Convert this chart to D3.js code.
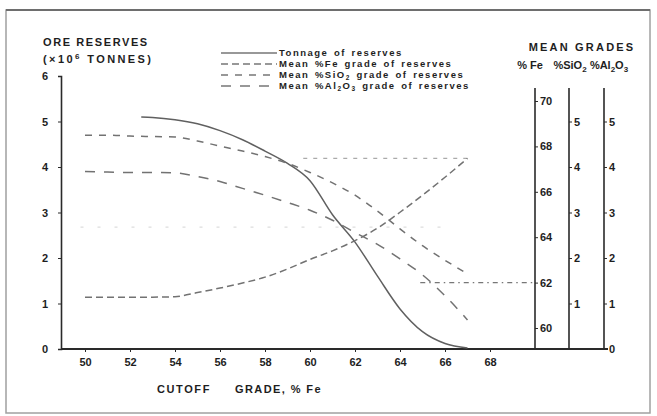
<!DOCTYPE html>
<html>
<head>
<meta charset="utf-8">
<script src="https://cdn.jsdelivr.net/npm/d3@7"></script>
<style>
  body { margin: 0; background: #fff; }
  svg { display: block; }
  text { font-family: "Liberation Sans", Arial, sans-serif; fill: #1e1e1e; }
  .axis path, .axis line { stroke: #2a2a2a; }
</style>
</head>
<body>
<svg id="chart"></svg>
<script>
'use strict';

// cutoff grade (% Fe) tick labels
var cutoffTicks = [50, 52, 54, 56, 58, 60, 62, 64, 66, 68];
var reserveTicks = [0, 1, 2, 3, 4, 5, 6];
var feTicks = [60, 62, 64, 66, 68, 70];
var oxideTicks = [1, 2, 3, 4, 5];

// tonnage of reserves (x10^6 t) against cutoff grade
var tonnageCutoff = [52.5, 53, 54, 55, 56, 57, 58, 59, 60, 61, 62, 63, 64, 65, 66, 67];
var tonnage = [5.1, 5.09, 5.04, 4.95, 4.8, 4.6, 4.35, 4.08, 3.7, 2.95, 2.35, 1.6, 0.88, 0.38, 0.12, 0.02];

// mean grades of reserves against cutoff grade
var gradeCutoff = [50, 51, 52, 53, 54, 55, 56, 57, 58, 59, 60, 61, 62, 63, 64, 65, 66, 67];
var feGrade = [61.36, 61.36, 61.36, 61.36, 61.38, 61.56, 61.76, 61.98, 62.24, 62.6, 63.02, 63.4, 63.85, 64.4, 65.1, 65.85, 66.64, 67.47];
var sio2Grade = [4.7, 4.7, 4.68, 4.67, 4.66, 4.57, 4.46, 4.35, 4.23, 4.08, 3.88, 3.65, 3.38, 3.03, 2.64, 2.27, 1.95, 1.65];
var al2o3Grade = [3.9, 3.89, 3.88, 3.88, 3.87, 3.79, 3.68, 3.53, 3.38, 3.22, 3.05, 2.83, 2.56, 2.3, 1.98, 1.63, 1.17, 0.64];

var canvasWidth = 657;
var canvasHeight = 416;
var svg = d3.select('#chart')
  .attr('width', canvasWidth)
  .attr('height', canvasHeight);

// frame of the scanned figure
svg.append('rect')
  .attr('x', 6).attr('y', 10)
  .attr('width', 644).attr('height', 403)
  .attr('fill', 'none')
  .attr('stroke', '#a0a0a0')
  .attr('stroke-width', 1.5);
svg.append('line')
  .attr('x1', 6).attr('x2', 650).attr('y1', 10).attr('y2', 10)
  .attr('stroke', '#6e6e6e').attr('stroke-width', 2);

// scales
var xScale = d3.scaleLinear().domain([50, 68]).range([85, 490]);
var yScale = d3.scaleLinear().domain([0, 6]).range([349, 76]);
var feScale = d3.scaleLinear().domain([60, 70]).range([328, 101]);
var leftX = 61;
var feX = 535;
var sio2X = 569;
var al2o3X = 604;
var baseY = 349;
var axisTop = 88;
var fmt = d3.format('d');

// x axis
var xAxis = svg.append('g')
  .attr('class', 'axis')
  .attr('transform', 'translate(0,' + baseY + ')')
  .call(d3.axisBottom(xScale).tickValues(cutoffTicks).tickSize(3).tickPadding(6).tickFormat(fmt));
xAxis.select('.domain').remove();
xAxis.append('line')
  .attr('x1', leftX).attr('x2', al2o3X + 4)
  .attr('stroke', '#2a2a2a').attr('stroke-width', 2);
xAxis.selectAll('.tick text')
  .attr('font-size', 11).attr('font-weight', 'bold').attr('fill', '#1e1e1e');

// left axis: ore reserves
var yAxis = svg.append('g')
  .attr('class', 'axis')
  .attr('transform', 'translate(' + leftX + ',0)')
  .call(d3.axisLeft(yScale).tickValues(reserveTicks).tickSize(3).tickPadding(10).tickFormat(fmt));
yAxis.select('.domain').attr('stroke-width', 1.6);
yAxis.selectAll('.tick text')
  .attr('font-size', 11).attr('font-weight', 'bold').attr('fill', '#1e1e1e');

// right axes: mean grades
function rightAxis(x, scale, ticks, top) {
  var g = svg.append('g')
    .attr('class', 'axis')
    .attr('transform', 'translate(' + x + ',0)')
    .call(d3.axisRight(scale).tickValues(ticks).tickSize(3).tickPadding(2).tickFormat(fmt));
  g.select('.domain').remove();
  g.append('line')
    .attr('y1', top).attr('y2', baseY)
    .attr('stroke', '#2a2a2a').attr('stroke-width', 1.6);
  g.selectAll('.tick text')
    .attr('font-size', 11).attr('font-weight', 'bold').attr('fill', '#1e1e1e');
  return g;
}
rightAxis(feX, feScale, feTicks, axisTop);
rightAxis(sio2X, yScale, oxideTicks, axisTop);
rightAxis(al2o3X, yScale, [0].concat(oxideTicks), axisTop);

// faint reference lines left on the original drawing
var refLine = d3.line()
  .x(function(d) { return d[0]; })
  .y(function(d) { return d[1]; });
svg.append('path')
  .attr('d', refLine([[xScale(64.9), feScale(62)], [feX, feScale(62)]]))
  .attr('stroke', '#777').attr('stroke-width', 1.4)
  .attr('stroke-dasharray', '5,4,1.5,4').attr('fill', 'none');
svg.append('path')
  .attr('d', refLine([[xScale(59.7), feScale(67.47)], [xScale(67), feScale(67.47)]]))
  .attr('stroke', '#aaa').attr('stroke-width', 1.2)
  .attr('stroke-dasharray', '4,6').attr('fill', 'none');
svg.append('path')
  .attr('d', refLine([[xScale(49.8), yScale(2.68)], [xScale(66), yScale(2.68)]]))
  .attr('stroke', '#ddd').attr('stroke-width', 1.2)
  .attr('stroke-dasharray', '3,14').attr('fill', 'none');

// curves
var lineTonnage = d3.line()
  .x(function(d, i) { return xScale(tonnageCutoff[i]); })
  .y(function(d) { return yScale(d); })
  .curve(d3.curveMonotoneX);
var lineFe = d3.line()
  .x(function(d, i) { return xScale(gradeCutoff[i]); })
  .y(function(d) { return feScale(d); })
  .curve(d3.curveMonotoneX);
var lineOxide = d3.line()
  .x(function(d, i) { return xScale(gradeCutoff[i]); })
  .y(function(d) { return yScale(d); })
  .curve(d3.curveMonotoneX);

var styles = {
  tonnage: { dash: null, color: '#606060', width: 1.5 },
  fe: { dash: '7,4', color: '#727272', width: 1.5 },
  sio2: { dash: '7,7', color: '#727272', width: 1.5 },
  al2o3: { dash: '10,9', color: '#727272', width: 1.5 }
};

function drawCurve(d, s) {
  svg.append('path')
    .attr('d', d)
    .attr('fill', 'none')
    .attr('stroke', s.color)
    .attr('stroke-width', s.width)
    .attr('stroke-dasharray', s.dash);
}
drawCurve(lineTonnage(tonnage), styles.tonnage);
drawCurve(lineFe(feGrade), styles.fe);
drawCurve(lineOxide(sio2Grade), styles.sio2);
drawCurve(lineOxide(al2o3Grade), styles.al2o3);

// axis titles
svg.append('text')
  .attr('x', 43).attr('y', 46)
  .attr('font-size', 11).attr('font-weight', 'bold').attr('letter-spacing', 1.6)
  .text('ORE RESERVES');
var unit = svg.append('text')
  .attr('x', 43).attr('y', 63)
  .attr('font-size', 11).attr('font-weight', 'bold').attr('letter-spacing', 2.4);
unit.append('tspan').text('(×10');
unit.append('tspan').attr('dy', -4).attr('font-size', 8).text('6');
unit.append('tspan').attr('dy', 4).text(' TONNES)');

svg.append('text')
  .attr('x', 582).attr('y', 51)
  .attr('text-anchor', 'middle')
  .attr('font-size', 11).attr('font-weight', 'bold').attr('letter-spacing', 2.2)
  .text('MEAN GRADES');

function gradeLabel(x, parts) {
  var t = svg.append('text')
    .attr('x', x).attr('y', 69)
    .attr('text-anchor', 'middle')
    .attr('font-size', 11).attr('font-weight', 'bold');
  parts.forEach(function(p) {
    t.append('tspan')
      .attr('dy', p[1])
      .attr('font-size', p[1] > 0 ? 8 : 11)
      .text(p[0]);
  });
}
gradeLabel(feX - 5, [['% Fe', 0]]);
gradeLabel(sio2X + 1, [['%SiO', 0], ['2', 3]]);
gradeLabel(al2o3X + 5, [['%Al', 0], ['2', 3], ['O', -3], ['3', 3]]);

svg.append('text')
  .attr('x', 157).attr('y', 393)
  .attr('font-size', 11).attr('font-weight', 'bold').attr('letter-spacing', 1.6)
  .text('CUTOFF');
svg.append('text')
  .attr('x', 235).attr('y', 393)
  .attr('font-size', 11).attr('font-weight', 'bold').attr('letter-spacing', 1.4)
  .text('GRADE, % Fe');

// legend
var legendItems = [
  { key: 'tonnage', parts: [['Tonnage of reserves', 0]] },
  { key: 'fe', parts: [['Mean %Fe grade of reserves', 0]] },
  { key: 'sio2', parts: [['Mean %SiO', 0], ['2', 2], [' grade of reserves', -2]] },
  { key: 'al2o3', parts: [['Mean %Al', 0], ['2', 2], ['O', -2], ['3', 2], [' grade of reserves', -2]] }
];
var legend = svg.selectAll('.legend')
  .data(legendItems)
  .enter().append('g')
  .attr('class', 'legend')
  .attr('transform', function(d, i) { return 'translate(221,' + (50 + i * 11) + ')'; });
legend.append('line')
  .attr('x1', 0).attr('x2', 56)
  .attr('y1', 3).attr('y2', 3)
  .attr('stroke', '#333')
  .attr('stroke-width', 1.2)
  .attr('stroke-dasharray', function(d) { return styles[d.key].dash; });
legend.append('text')
  .attr('x', 58).attr('y', 6)
  .attr('font-size', 9.5).attr('font-weight', 'bold').attr('letter-spacing', 1.5)
  .attr('word-spacing', 1.5)
  .each(function(d) {
    var t = d3.select(this);
    d.parts.forEach(function(p) {
      t.append('tspan')
        .attr('dy', p[1])
        .attr('font-size', (p[1] > 0) ? 6.5 : 9.5)
        .text(p[0]);
    });
  });
</script>
</body>
</html>
